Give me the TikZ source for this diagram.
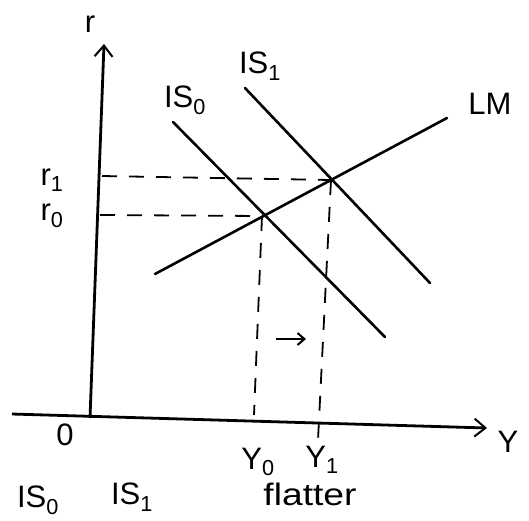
\documentclass[tikz,border=0pt]{standalone}
\usepackage{fontspec}
\setmainfont{Liberation Sans}
\usetikzlibrary{arrows.meta}
\begin{document}
\begin{tikzpicture}[x=1pt,y=-1pt,
  curve/.style={line width=2.6pt,line cap=round},
  axis/.style={line width=2.8pt,-{Straight Barb[length=11pt,width=18pt,line width=2pt]}},
  guide/.style={line width=1.8pt,dash pattern=on 15pt off 12pt},
  lab/.style={font=\fontsize{31}{33}\selectfont,inner sep=1pt}]
\useasboundingbox (0,0) rectangle (529,520);
% axes
\coordinate (O) at (90,418);
\coordinate (ytop) at (104,44);
\coordinate (xleft) at (12,414);
\coordinate (xright) at (487,428);
\draw[axis] (O) -- (ytop);
\draw[axis] (xleft) -- (xright);
% curves
\coordinate (LMa) at (155,274);
\coordinate (LMb) at (447,118);
\coordinate (ISa0) at (173,122);
\coordinate (ISb0) at (385,337);
\coordinate (ISa1) at (245,88);
\coordinate (ISb1) at (430,283);
\draw[curve] (LMa) -- (LMb);
\draw[curve] (ISa0) -- (ISb0);
\draw[curve] (ISa1) -- (ISb1);
\coordinate (E0) at (262,216);
\coordinate (E1) at (331,180);
% guides
\coordinate (r1a) at (102,176);
\coordinate (r0a) at (100,215);
\coordinate (y0b) at (254,415);
\coordinate (y1b) at (318,440);
\draw[guide] (r1a) -- (E1);
\draw[guide] (r0a) -- (E0);
\draw[guide] (E0) -- (y0b);
\draw[guide] (E1) -- (y1b);
% labels
\node[lab] (rlab) at (90,24) {r};
\node[lab] (r1) at (52,180) {r\textsubscript{1}};
\node[lab] (r0) at (52,216) {r\textsubscript{0}};
\node[lab] (zero) at (65,435) {0};
\node[lab] (Ylab) at (508,442) {Y};
\node[lab] (Y0) at (258,462) {Y\textsubscript{0}};
\node[lab] (Y1) at (322,460) {Y\textsubscript{1}};
\node[lab] (LM) at (490,104) {LM};
\node[lab] (IS0) at (185,100) {IS\textsubscript{0}};
\node[lab] (IS1) at (260,66) {IS\textsubscript{1}};
\node[lab] (b0) at (38,500) {IS\textsubscript{0}};
\node[lab] (b1) at (132,497) {IS\textsubscript{1}};
\node[lab,xscale=1.2] (fl) at (310,494) {flatter};
% shift arrow
\coordinate (sa) at (276,339);
\coordinate (sb) at (306,339);
\draw[line width=2pt,-{Straight Barb[length=7pt,width=12pt]}] (sa) -- (sb);
\end{tikzpicture}
\end{document}
